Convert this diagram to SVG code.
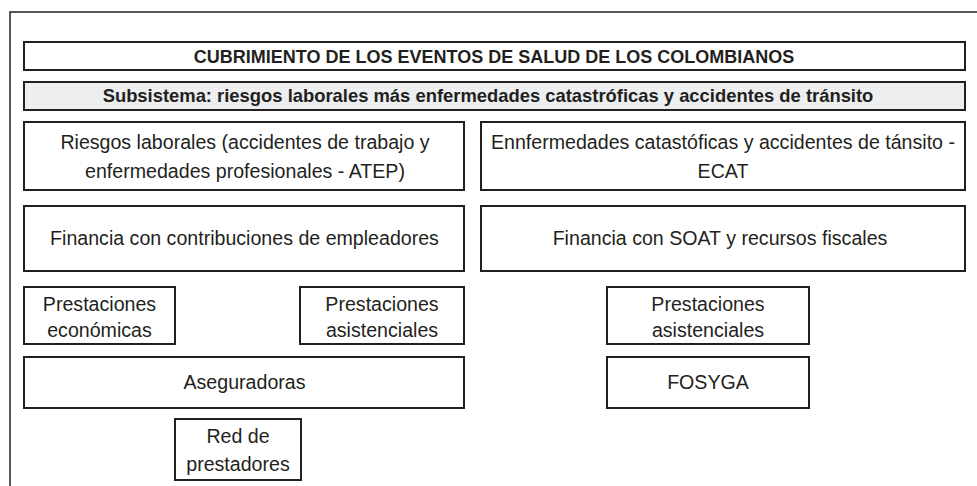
<svg xmlns="http://www.w3.org/2000/svg" width="977" height="486" viewBox="0 0 977 486">
<style>
.box{fill:#ffffff;stroke:#231f20;stroke-width:2}
.sub{fill:#eceef0;stroke:#231f20;stroke-width:2}
.frame{fill:none;stroke:#231f20;stroke-width:1.5}
text{font-family:"Liberation Sans",Arial,sans-serif;fill:#231f20;text-anchor:middle}
.t{font-size:19.6px}
.b{font-size:18px;font-weight:bold}
.bs{font-size:18.4px;font-weight:bold}
</style>
<rect class="frame" x="10" y="12" width="1000" height="500"/>
<g id="title">
<rect class="box" x="24" y="42" width="941" height="28"/>
<text class="b" x="494" y="63">CUBRIMIENTO DE LOS EVENTOS DE SALUD DE LOS COLOMBIANOS</text>
</g>
<g id="subsistema">
<rect class="sub" x="24" y="82" width="941" height="28"/>
<text class="bs" x="488" y="102">Subsistema: riesgos laborales más enfermedades catastróficas y accidentes de tránsito</text>
</g>
<g id="atep">
<rect class="box" x="24" y="122" width="440" height="68"/>
<text class="t" x="245" y="149">Riesgos laborales (accidentes de trabajo y</text>
<text class="t" x="245" y="178">enfermedades profesionales - ATEP)</text>
</g>
<g id="ecat">
<rect class="box" x="481" y="122" width="484" height="68"/>
<text class="t" x="723" y="149">Ennfermedades catastóficas y accidentes de tánsito -</text>
<text class="t" x="723" y="178">ECAT</text>
</g>
<g id="financia-empleadores">
<rect class="box" x="24" y="206" width="440" height="65"/>
<text class="t" x="244.5" y="245">Financia con contribuciones de empleadores</text>
</g>
<g id="financia-soat">
<rect class="box" x="481" y="206" width="484" height="65"/>
<text class="t" x="720" y="245">Financia con SOAT y recursos fiscales</text>
</g>
<g id="prest-economicas">
<rect class="box" x="24" y="287" width="151" height="57"/>
<text class="t" x="99.5" y="311">Prestaciones</text>
<text class="t" x="99.5" y="337">económicas</text>
</g>
<g id="prest-asistenciales-atep">
<rect class="box" x="300" y="287" width="164" height="57"/>
<text class="t" x="382" y="311">Prestaciones</text>
<text class="t" x="382" y="337">asistenciales</text>
</g>
<g id="prest-asistenciales-ecat">
<rect class="box" x="607" y="287" width="202" height="57"/>
<text class="t" x="708" y="311">Prestaciones</text>
<text class="t" x="708" y="337">asistenciales</text>
</g>
<g id="aseguradoras">
<rect class="box" x="24" y="357" width="440" height="51"/>
<text class="t" x="244.5" y="389">Aseguradoras</text>
</g>
<g id="fosyga">
<rect class="box" x="607" y="357" width="202" height="51"/>
<text class="t" x="708" y="389">FOSYGA</text>
</g>
<g id="red-prestadores">
<rect class="box" x="175" y="419" width="126" height="61"/>
<text class="t" x="238" y="443">Red de</text>
<text class="t" x="238" y="471">prestadores</text>
</g>
<g id="connectors"/>
</svg>
